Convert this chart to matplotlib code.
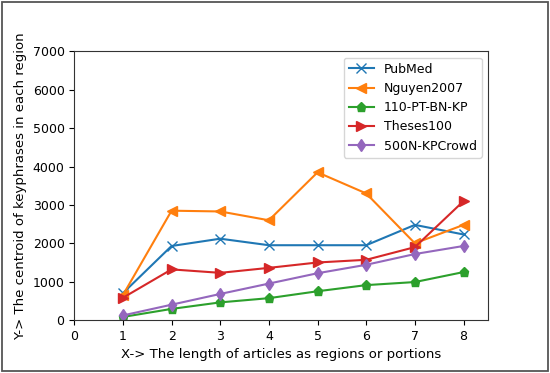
import numpy as np
import matplotlib
matplotlib.use("Agg")
import matplotlib.pyplot as plt

# данные
regions = [1, 2, 3, 4, 5, 6, 7, 8]
pubmed = [700, 1930, 2120, 1950, 1950, 1950, 2480, 2230]
nguyen = [650, 2850, 2830, 2600, 3850, 3300, 2000, 2480]
pt_bn_kp = [80, 290, 460, 570, 750, 910, 990, 1250]
theses = [580, 1320, 1230, 1360, 1500, 1570, 1900, 3100]
kpcrowd = [120, 400, 680, 950, 1220, 1440, 1720, 1930]

fig = plt.figure(figsize=(5.5, 3.73), dpi=100)
ax = fig.add_axes([0.135, 0.142, 0.752, 0.72])

ax.plot(regions, pubmed, marker='x', color='tab:blue', label='PubMed', markersize=6.5)
ax.plot(regions, nguyen, marker='<', color='tab:orange', label='Nguyen2007', markersize=6.5)
ax.plot(regions, pt_bn_kp, marker='p', color='tab:green', label='110-PT-BN-KP', markersize=6.5)
ax.plot(regions, theses, marker='>', color='tab:red', label='Theses100', markersize=6.5)
ax.plot(regions, kpcrowd, marker='d', color='tab:purple', label='500N-KPCrowd', markersize=6.5)

ax.set_xlim(0, 8.5)
ax.set_ylim(0, 7000)
ax.set_xticks(range(0, 9))
ax.set_yticks(range(0, 7001, 1000))
ax.tick_params(labelsize=9)
for s in ax.spines.values():
    s.set_color('#333333')
ax.set_xlabel('X-> The length of articles as regions or portions', fontsize=9.5)
ax.set_ylabel('Y-> The centroid of keyphrases in each region', fontsize=9.5)
ax.legend(loc='upper right', fontsize=9)

# рамка вокруг рисунка
fig.patches.append(plt.Rectangle((0.004, 0.005), 0.992, 0.99, transform=fig.transFigure,
                                 fill=False, edgecolor='#555555', linewidth=1.3))

fig.savefig('out.png', dpi=100)
